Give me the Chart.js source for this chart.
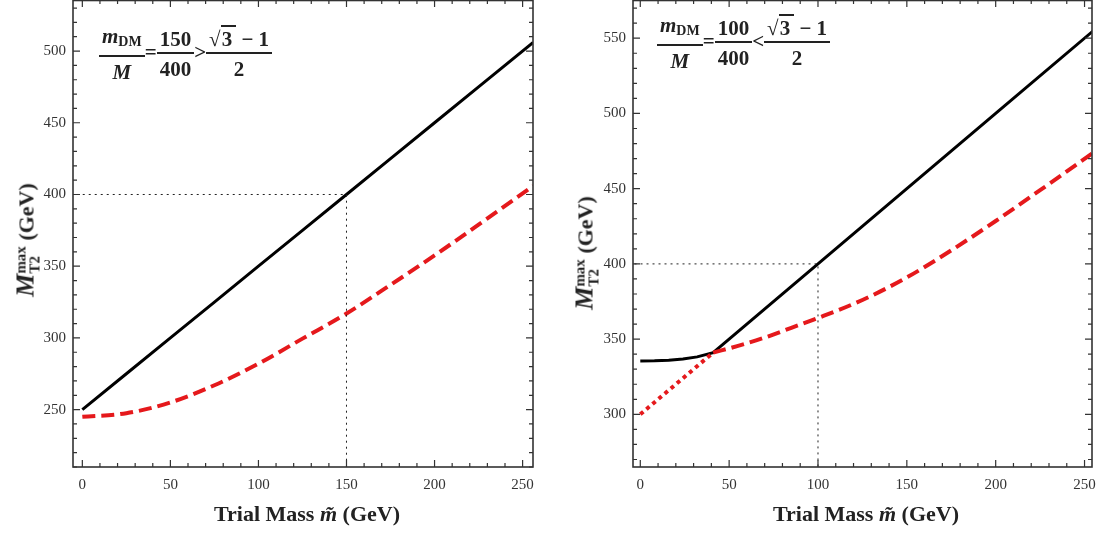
<!DOCTYPE html>
<html>
<head>
<meta charset="utf-8">
<script src="https://cdn.jsdelivr.net/npm/chart.js@4.4.0/dist/chart.umd.min.js"></script>
<style>
  body { margin: 0; background: #fff; width: 1104px; height: 533px; overflow: hidden; position: relative;
         font-family: "Liberation Serif", "DejaVu Serif", serif; color: #222; }
  .panel { position: absolute; top: 0; width: 552px; height: 533px; }
  .panel canvas { position: absolute; left: 0; top: 0; }
  .xtitle { position: absolute; top: 501px; font-weight: bold; font-size: 22px; white-space: nowrap;
            transform: translateX(-50%); }
  .ytitle { position: absolute; font-weight: bold; font-size: 22px; white-space: nowrap;
            transform: translate(-50%, -50%) rotate(-90deg); }
  .ytitle .m { font-style: italic; font-size: 26px; }
  .ytitle .idx { display: inline-block; vertical-align: -6px; font-size: 15px; line-height: 14px; text-align: left; }
  .ytitle .idx span { display: block; }
  .note { position: absolute; font-weight: bold; font-size: 21px; white-space: nowrap; line-height: 20px; }
  .frac { display: inline-block; vertical-align: middle; text-align: center; }
  .frac .num { display: block; border-bottom: 2px solid #222; padding: 0 3px 3px; }
  .frac .den { display: block; padding-top: 5px; }
  .note sub { font-size: 14px; vertical-align: -3px; }
  .rad { border-top: 2px solid #222; padding: 0 4px 0 1px; }
</style>
</head>
<body>

<div class="panel" style="left:0"><canvas id="leftChart" width="552" height="533"></canvas></div>
<div class="panel" style="left:552px"><canvas id="rightChart" width="552" height="533"></canvas></div>

<div class="note" style="left:99px; top:26px;">
  <span class="frac"><span class="num"><i>m</i><sub>DM</sub></span><span class="den"><i>M</i></span></span>=<span class="frac"><span class="num">150</span><span class="den">400</span></span>&gt;<span class="frac"><span class="num">√<span class="rad">3</span> − 1</span><span class="den">2</span></span>
</div>
<div class="note" style="left:657px; top:15px;">
  <span class="frac"><span class="num"><i>m</i><sub>DM</sub></span><span class="den"><i>M</i></span></span>=<span class="frac"><span class="num">100</span><span class="den">400</span></span>&lt;<span class="frac"><span class="num">√<span class="rad">3</span> − 1</span><span class="den">2</span></span>
</div>

<div class="ytitle" style="left:26px; top:240px;"><span class="m">M</span><span class="idx"><span>max</span><span>T2</span></span> (GeV)</div>
<div class="ytitle" style="left:585px; top:253px;"><span class="m">M</span><span class="idx"><span>max</span><span>T2</span></span> (GeV)</div>

<div class="xtitle" style="left:307px;">Trial Mass <i>m̃</i> (GeV)</div>
<div class="xtitle" style="left:866px;">Trial Mass <i>m̃</i> (GeV)</div>

<script>
// left panel: m_DM = 150, M = 400
var leftMass = [0, 25, 50, 75, 100, 125, 150, 175, 200, 225, 256];
var leftUpper = [250, 275, 300, 325, 350, 375, 400, 425, 450, 475, 506];
var leftLower = [245, 247.5, 255, 267, 282, 299.5, 317, 337, 357.5, 379, 406];
var leftGuideX = [-10, 150, 150];
var leftGuideY = [400, 400, 200];

// right panel: m_DM = 100, M = 400
var rightUpperMass = [0, 8, 16, 24, 32, 41, 100, 150, 200, 255];
var rightUpper = [335.5, 335.6, 336.0, 336.8, 338.2, 341, 400, 450, 500, 555];
var rightDottedMass = [0, 41];
var rightDotted = [300, 341];
var rightLowerMass = [41, 55, 70, 85, 100, 125, 150, 175, 200, 225, 255];
var rightLower = [341, 345.5, 351, 357.5, 364, 376, 391, 409, 428.5, 449, 474];
var rightGuideX = [-10, 100, 100];
var rightGuideY = [400, 400, 200];

var xTicks = [0, 50, 100, 150, 200, 250];
var leftYTicks = [250, 300, 350, 400, 450, 500];
var rightYTicks = [300, 350, 400, 450, 500, 550];

var RED = '#e5191c';
var INK = '#333';

function points(xs, ys) {
    return xs.map(function (x, i) {
        return { x: x, y: ys[i] };
    });
}

// closed frame with inward ticks on all four sides, minor every 10
var framePlugin = {
    id: 'frame',
    afterDatasetsDraw: function (chart) {
        var ctx = chart.ctx;
        var a = chart.chartArea;
        var xs = chart.scales.x;
        var ys = chart.scales.y;
        ctx.save();
        ctx.strokeStyle = INK;
        ctx.lineWidth = 1.6;
        ctx.strokeRect(a.left, a.top + 0.5, a.right - a.left, a.bottom - a.top - 0.5);
        ctx.lineWidth = 1.2;
        ctx.beginPath();
        var v, p, len;
        for (v = Math.ceil(xs.min / 10) * 10; v <= xs.max; v += 10) {
            p = xs.getPixelForValue(v);
            len = v % 50 === 0 ? 7 : 4;
            ctx.moveTo(p, a.bottom); ctx.lineTo(p, a.bottom - len);
            ctx.moveTo(p, a.top); ctx.lineTo(p, a.top + len);
        }
        for (v = Math.ceil(ys.min / 10) * 10; v <= ys.max; v += 10) {
            p = ys.getPixelForValue(v);
            len = v % 50 === 0 ? 7 : 4;
            ctx.moveTo(a.left, p); ctx.lineTo(a.left + len, p);
            ctx.moveTo(a.right, p); ctx.lineTo(a.right - len, p);
        }
        ctx.stroke();
        ctx.restore();
    }
};

function makeChart(id, datasets, range, yTicks, axisWidth, padRight) {
    var ctx = document.getElementById(id).getContext('2d');
    return new Chart(ctx, {
        type: 'scatter',
        data: { datasets: datasets },
        options: {
            responsive: false,
            animation: false,
            layout: { padding: { left: 0, right: padRight, top: 0, bottom: 26 } },
            plugins: { legend: { display: false }, tooltip: { enabled: false } },
            elements: { point: { radius: 0 } },
            scales: {
                x: {
                    type: 'linear',
                    min: range.xmin, max: range.xmax,
                    afterBuildTicks: function (s) {
                        s.ticks = xTicks.map(function (t) { return { value: t }; });
                    },
                    afterFit: function (s) {
                        s.height = 40;
                        s.paddingLeft = 0;
                        s.paddingRight = 0;
                    },
                    grid: { display: false, drawTicks: false },
                    border: { display: false },
                    ticks: { color: INK, padding: 9, maxRotation: 0, autoSkip: false,
                             font: { family: 'Liberation Serif', size: 15 } }
                },
                y: {
                    type: 'linear',
                    min: range.ymin, max: range.ymax,
                    afterBuildTicks: function (s) {
                        s.ticks = yTicks.map(function (t) { return { value: t }; });
                    },
                    afterFit: function (s) {
                        s.width = axisWidth;
                        s.paddingTop = 0;
                        s.paddingBottom = 0;
                    },
                    grid: { display: false, drawTicks: false },
                    border: { display: false },
                    ticks: { color: INK, padding: 7, autoSkip: false,
                             font: { family: 'Liberation Serif', size: 15 } }
                }
            }
        },
        plugins: [framePlugin]
    });
}

function solid(data) {
    return { data: data, showLine: true, borderColor: '#000', borderWidth: 3, tension: 0, pointRadius: 0 };
}
function dashed(data) {
    return { data: data, showLine: true, borderColor: RED, borderWidth: 4, borderDash: [13, 6],
             cubicInterpolationMode: 'monotone', pointRadius: 0 };
}
function guide(data) {
    return { data: data, showLine: true, borderColor: '#222', borderWidth: 1, borderDash: [2, 4],
             tension: 0, pointRadius: 0 };
}

makeChart('leftChart', [
    guide(points(leftGuideX, leftGuideY)),
    dashed(points(leftMass, leftLower)),
    solid(points(leftMass, leftUpper))
], { xmin: -5.3, xmax: 255.9, ymin: 210, ymax: 535.6 }, leftYTicks, 73, 19);

makeChart('rightChart', [
    guide(points(rightGuideX, rightGuideY)),
    { data: points(rightDottedMass, rightDotted), showLine: true, borderColor: RED, borderWidth: 4,
      borderDash: [4, 4], tension: 0, pointRadius: 0 },
    dashed(points(rightLowerMass, rightLower)),
    solid(points(rightUpperMass, rightUpper))
], { xmin: -4.1, xmax: 254.2, ymin: 265, ymax: 575.4 }, rightYTicks, 81, 12);
</script>
</body>
</html>
